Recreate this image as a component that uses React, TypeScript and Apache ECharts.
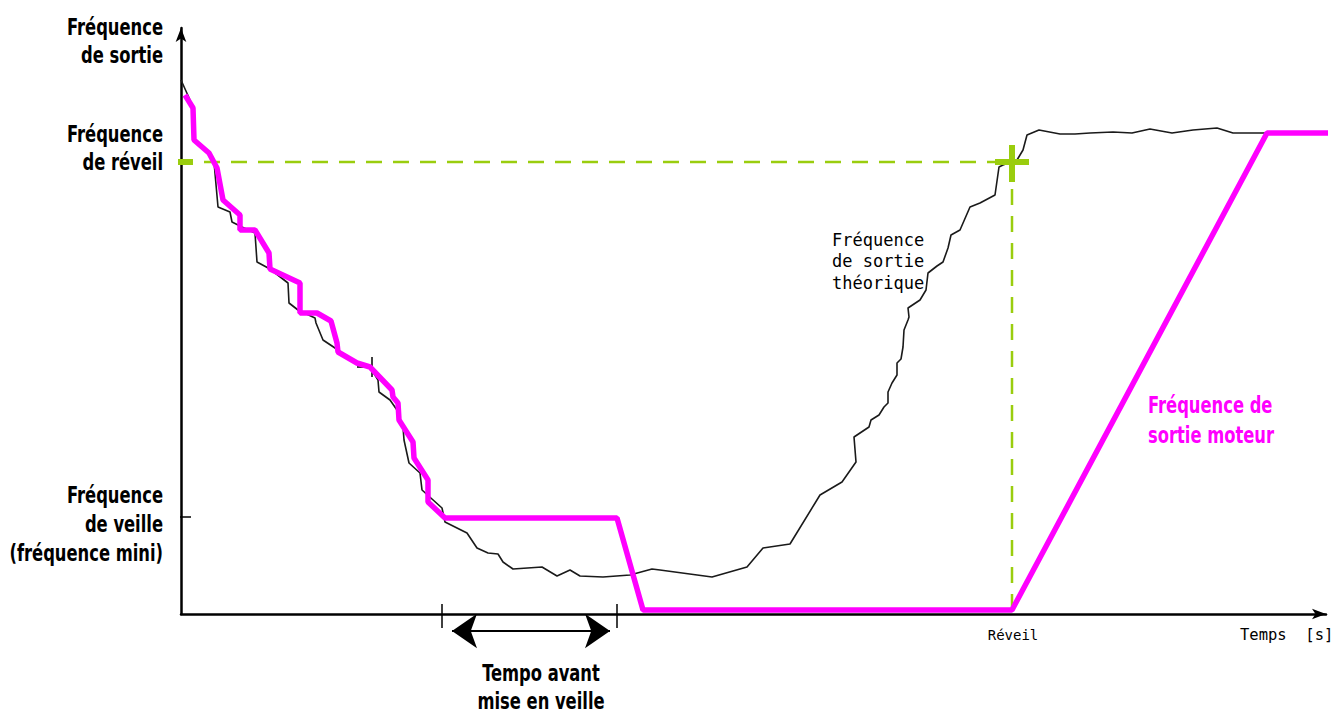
import React, { useEffect, useRef } from "react";
import * as echarts from "echarts";

// x: time (chart units), y: frequency (chart units)
const theoreticalFreq: [number, number][] = [
  [0, 534], [9, 514], [12, 502], [14, 474], [26, 464], [33, 452], [37, 407], [49, 402],
  [51, 392], [61, 387], [74, 381], [76, 352], [89, 345], [107, 331], [108, 311], [117, 304],
  [134, 296], [135, 291], [142, 274], [154, 266], [171, 254], [189, 247], [197, 234], [198, 222],
  [209, 214], [216, 204], [222, 187], [223, 174], [228, 151], [239, 141], [241, 124], [261, 106],
  [264, 92], [286, 81], [296, 66], [307, 61], [317, 60], [322, 52], [332, 45], [361, 47],
  [376, 38], [389, 44], [399, 38], [422, 37], [449, 39], [471, 45], [479, 44], [531, 37],
  [566, 47], [582, 66], [609, 70], [639, 119], [661, 132], [675, 152], [673, 177], [688, 187],
  [690, 194], [698, 199], [703, 207], [707, 211], [707, 222], [711, 231], [716, 239], [716, 251],
  [720, 255], [722, 267], [723, 284], [727, 294], [728, 297], [727, 306], [739, 314], [745, 324],
  [747, 341], [756, 348], [762, 352], [767, 366], [770, 379], [779, 384], [789, 407], [799, 411],
  [814, 419], [818, 447], [822, 449], [836, 454], [842, 464], [846, 479], [858, 484], [879, 480],
  [894, 480], [909, 481], [932, 482], [951, 481], [969, 485], [991, 481], [1012, 484], [1036, 486],
  [1052, 481], [1086, 481],
];

const motorFreq: [number, number][] = [
  [4, 519], [12, 506], [13, 474], [28, 461], [36, 446], [42, 414], [59, 399], [59, 384],
  [74, 384], [88, 361], [89, 345], [119, 331], [119, 301], [136, 301], [150, 293], [156, 271],
  [157, 262], [176, 251], [189, 247], [211, 224], [212, 217], [217, 211], [218, 194], [232, 172],
  [233, 156], [247, 134], [247, 112], [264, 96], [436, 96], [462, 4], [831, 4], [1086, 481],
  [1147, 481],
];

const wakeLevelLine: [number, number][] = [[23, 452], [831, 452]];
const wakeTimeLine: [number, number][] = [[831, 452], [831, 4]];
const wakeLevelTick: [number, number][] = [[-9, 452], [12, 452]];
const wakeCrossH: [number, number][] = [[814, 452], [848, 452]];
const wakeCrossV: [number, number][] = [[831, 469], [831, 432]];
const sleepLevelTick: [number, number][] = [[-8, 97], [10, 97]];
const tempoStartTick: [number, number][] = [[261, 10], [261, -14]];
const tempoEndTick: [number, number][] = [[436, 10], [436, -14]];
const plusMarkV: [number, number][] = [[191, 257], [191, 237]];
const plusMarkH: [number, number][] = [[176, 247], [191, 247]];
const tempoArrow: [number, number][] = [[271, -17], [429, -17]];

const X_MAX = 1145;
const Y_MAX = 586;

const BOLD_FONT = "'DejaVu Sans Condensed','DejaVu Sans',sans-serif";
const MONO_FONT = "'DejaVu Sans Mono','Liberation Mono',monospace";
const GREEN = "#9acd0e";
const MAGENTA = "#ff00ff";
const CONDENSE = 0.79;

export default function App() {
  const ref = useRef<HTMLDivElement>(null);
  useEffect(() => {
    if (!ref.current) return;
    const chart = echarts.init(ref.current, null, { renderer: "svg" });

    const simple = (data: [number, number][], color: string, width: number, extra: any = {}) => ({
      type: "line",
      data,
      symbol: "none",
      showSymbol: false,
      clip: false,
      silent: true,
      lineStyle: { color, width, ...(extra.lineStyle || {}) },
      z: extra.z ?? 2,
    });

    const boldText = (x: number, y: number, text: string, align: string, lh: number, fill = "#000") => ({
      type: "text",
      x,
      y,
      scaleX: CONDENSE,
      style: {
        text,
        align,
        verticalAlign: "middle",
        fontFamily: BOLD_FONT,
        fontWeight: "bold",
        fontSize: 23,
        lineHeight: lh,
        fill,
      },
    });
    const monoText = (x: number, y: number, text: string, align: string, size: number, lh = 20) => ({
      type: "text",
      x,
      y,
      style: {
        text,
        align,
        verticalAlign: "middle",
        fontFamily: MONO_FONT,
        fontSize: size,
        lineHeight: lh,
        fill: "#000",
      },
    });

    chart.setOption({
      animation: false,
      grid: { left: 181, top: 614 - Y_MAX, width: X_MAX, height: Y_MAX },
      xAxis: {
        type: "value",
        min: 0,
        max: X_MAX,
        axisLine: {
          show: true,
          onZero: false,
          symbol: ["none", "arrow"],
          symbolSize: [8, 14],
          lineStyle: { color: "#000", width: 2.5 },
        },
        axisTick: { show: false },
        axisLabel: { show: false },
        splitLine: { show: false },
      },
      yAxis: {
        type: "value",
        min: 0,
        max: Y_MAX,
        axisLine: {
          show: true,
          onZero: false,
          symbol: ["none", "arrow"],
          symbolSize: [8, 14],
          lineStyle: { color: "#000", width: 2.5 },
        },
        axisTick: { show: false },
        axisLabel: { show: false },
        splitLine: { show: false },
      },
      series: [
        simple(wakeLevelLine, GREEN, 2.5, { lineStyle: { type: [16, 11] }, z: 1 }),
        simple(wakeTimeLine, GREEN, 2.5, { lineStyle: { type: [16, 11] }, z: 1 }),
        simple(theoreticalFreq, "#1a1a1a", 1.6, { z: 2 }),
        simple(motorFreq, MAGENTA, 5.5, { z: 3 }),
        simple(wakeLevelTick, GREEN, 6, { z: 4 }),
        simple(wakeCrossH, GREEN, 6, { z: 4 }),
        simple(wakeCrossV, GREEN, 6, { z: 4 }),
        simple(sleepLevelTick, "#000", 1.5),
        simple(tempoStartTick, "#000", 1.5),
        simple(tempoEndTick, "#000", 1.5),
        simple(plusMarkV, "#000", 1.5),
        simple(plusMarkH, "#000", 1.5),
        {
          type: "line",
          clip: false,
          silent: true,
          showSymbol: true,
          lineStyle: { color: "#000", width: 2 },
          itemStyle: { color: "#000" },
          data: [
            { value: tempoArrow[0], symbol: "arrow", symbolSize: [26, 25], symbolRotate: 90 },
            { value: tempoArrow[1], symbol: "arrow", symbolSize: [26, 25], symbolRotate: -90 },
          ],
          z: 2,
        },
      ],
      graphic: [
        boldText(163, 41, "Fréquence\nde sortie", "right", 28),
        boldText(163, 148, "Fréquence\nde réveil", "right", 28),
        boldText(163, 524, "Fréquence\nde veille\n(fréquence mini)", "right", 29),
        boldText(541, 687, "Tempo avant\nmise en veille", "center", 28),
        boldText(1148, 420, "Fréquence de\nsortie moteur", "left", 30, MAGENTA),
        monoText(832, 261, "Fréquence\nde sortie\nthéorique", "left", 17, 21.5),
        monoText(1013, 635, "Réveil", "center", 14),
        monoText(1240, 635, "Temps  [s]", "left", 15.5),
      ],
    });
    return () => chart.dispose();
  }, []);
  return (
    <div
      ref={ref}
      style={{ position: "absolute", left: 0, top: 0, width: 1336, height: 713, background: "#fff" }}
    />
  );
}
